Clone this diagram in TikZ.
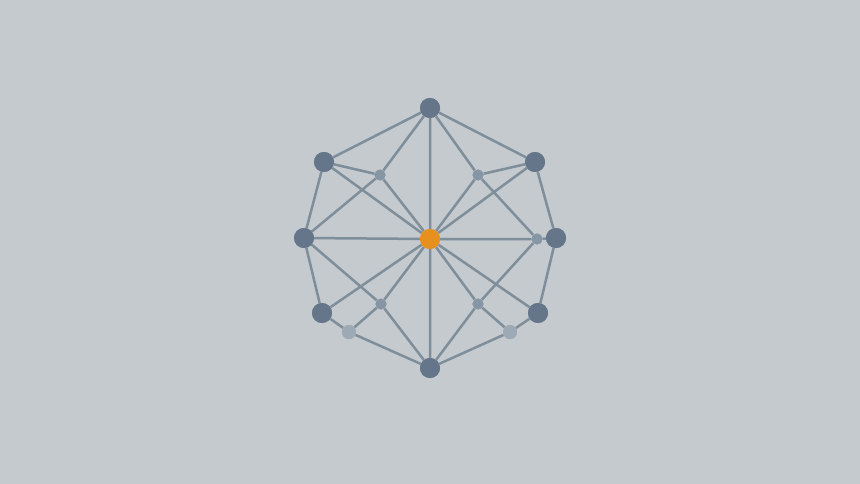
\documentclass[tikz,border=0pt]{standalone}
\begin{document}
\begin{tikzpicture}[x=1pt,y=-1pt,
  edge/.style={draw=edgec,line width=2.5pt},
  big/.style={circle,fill=bigc,inner sep=0pt,minimum size=20pt},
  small/.style={circle,fill=smallc,inner sep=0pt,minimum size=11pt},
  pale/.style={circle,fill=palec,inner sep=0pt,minimum size=14pt},
  hub/.style={circle,fill=hubc,inner sep=0pt,minimum size=20pt}]
\definecolor{bgc}{HTML}{C4CACE}
\definecolor{edgec}{HTML}{7F8E9B}
\definecolor{bigc}{HTML}{66768A}
\definecolor{smallc}{HTML}{8696A5}
\definecolor{palec}{HTML}{9DAAB5}
\definecolor{hubc}{HTML}{E8901E}
\fill[bgc] (0,0) rectangle (860,484);
\useasboundingbox (0,0) rectangle (860,484);
% nodes
\node[big] (T) at (430,108) {};
\node[big] (UL) at (324,162) {};
\node[big] (UR) at (535,162) {};
\node[big] (L) at (304,238) {};
\node[big] (R) at (556,238) {};
\node[big] (LL) at (322,313) {};
\node[big] (LR) at (538,313) {};
\node[big] (B) at (430,368) {};
\node[small] (ul) at (380,175) {};
\node[small] (ur) at (478,175) {};
\node[small] (ll) at (381,304) {};
\node[small] (lr) at (478,304) {};
\node[small] (rr) at (537,239) {};
\node[pale] (lla) at (349,332) {};
\node[pale] (lra) at (510,332) {};
\node[hub] (C) at (430,239) {};
% edges
\path[edge]
  (T) -- (UL) (T) -- (UR) (UL) -- (L) (UR) -- (R) (L) -- (LL) (R) -- (LR)
  (LL) -- (lla) (lla) -- (B) (LR) -- (lra) (lra) -- (B)
  (C) -- (T) (C) -- (B) (C) -- (L) (C) -- (rr) (rr) -- (R)
  (C) -- (UL) (C) -- (UR) (C) -- (LL) (C) -- (LR)
  (C) -- (ul) (C) -- (ur) (C) -- (ll) (C) -- (lr)
  (UL) -- (ul) (ul) -- (T) (ul) -- (L)
  (UR) -- (ur) (ur) -- (T) (ur) -- (rr)
  (L) -- (ll) (ll) -- (B) (ll) -- (lla)
  (rr) -- (lr) (lr) -- (B) (lr) -- (lra);
% redraw nodes on top
\foreach \n/\s in {T/big,UL/big,UR/big,L/big,R/big,LL/big,LR/big,B/big,ul/small,ur/small,ll/small,lr/small,rr/small,lla/pale,lra/pale,C/hub}
  \node[\s] at (\n) {};
\end{tikzpicture}
\end{document}
